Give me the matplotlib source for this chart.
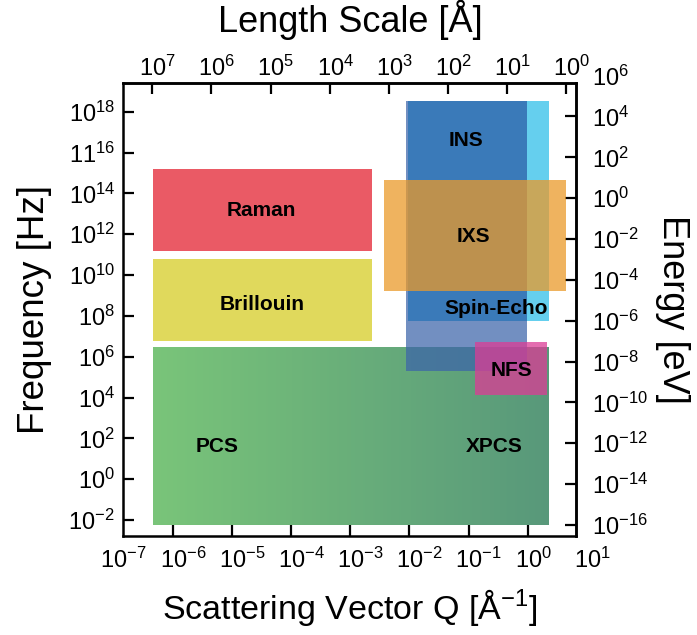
import numpy as np
import matplotlib
matplotlib.use("Agg")
import matplotlib.pyplot as plt
from matplotlib.colors import LinearSegmentedColormap
from matplotlib.ticker import NullLocator
from matplotlib.transforms import ScaledTranslation

plt.rcParams['font.family'] = ['Liberation Sans', 'DejaVu Sans']
plt.rcParams['mathtext.default'] = 'regular'

# --- data ----------------------------------------------------------------
# boxes: Q range [1/A] and frequency range [Hz]
box_names = ['Raman', 'Brillouin', 'NSE', 'Cyan', 'INS', 'IXS', 'NFS']
box_q_lo = [4.6e-7, 4.6e-7, 8.75e-3, 0.97, 9.6e-3, 3.66e-3, 0.127]
box_q_hi = [2.33e-3, 2.33e-3, 0.977, 2.29, 0.977, 4.47, 2.15]
box_f_lo = [1.55e11, 5.9e6, 2.06e5, 5.8e7, 5.8e7, 1.6e9, 1.37e4]
box_f_hi = [1.56e15, 6.1e10, 3.34e18, 3.34e18, 3.34e18, 4.5e14, 5.4e6]
box_colors = ['#EA5A65', '#E0D95C', '#3C64AA', '#65CFEE', '#3A7AB9', '#EA9A2A', '#DC3C96']
box_alpha = [1.0, 1.0, 0.72, 1.0, 1.0, 0.75, 0.75]

# green gradient box (PCS / XPCS)
pcs_q = [4.7e-7, 2.29]
pcs_f = [5.9e-3, 2.88e6]

# labels inside the boxes
lab_text = ['Raman', 'Brillouin', 'INS', 'IXS', 'Spin-Echo', 'NFS', 'PCS', 'XPCS']
lab_q = [3.2e-5, 3.2e-5, 0.09, 0.12, 0.29, 0.53, 5.6e-6, 0.27]
lab_f = [1.5e13, 3.6e8, 4.1e16, 7.8e11, 2.4e8, 2.1e5, 38, 38]

# ticks
q_ticks = [1e-6, 1e-5, 1e-4, 1e-3, 1e-2, 1e-1, 1e0]
q_labels = ['$10^{-6}$', '$10^{-5}$', '$10^{-4}$', '$10^{-3}$', '$10^{-2}$', '$10^{-1}$', '$10^{0}$']
f_ticks = [1e-2, 1e0, 1e2, 1e4, 1e6, 1e8, 1e10, 1e12, 1e14, 1e16, 1e18]
f_labels = ['$10^{-2}$', '$10^{0}$', '$10^{2}$', '$10^{4}$', '$10^{6}$', '$10^{8}$',
            '$10^{10}$', '$10^{12}$', '$10^{14}$', '$11^{16}$', '$10^{18}$']
l_ticks = [1e7, 1e6, 1e5, 1e4, 1e3, 1e2, 1e1, 1e0]
l_labels = ['$10^{7}$', '$10^{6}$', '$10^{5}$', '$10^{4}$', '$10^{3}$', '$10^{2}$', '$10^{1}$', '$10^{0}$']
e_ticks = [1e-16, 1e-14, 1e-12, 1e-10, 1e-8, 1e-6, 1e-4, 1e-2, 1e0, 1e2, 1e4]
e_labels = ['$10^{-16}$', '$10^{-14}$', '$10^{-12}$', '$10^{-10}$', '$10^{-8}$', '$10^{-6}$',
            '$10^{-4}$', '$10^{-2}$', '$10^{0}$', '$10^{2}$', '$10^{4}$']

QL = 4.49          # Q * length as drawn on the top axis
F2E = 10 ** -13.765  # frequency -> energy as drawn on the right axis

fs_tick = 17
pad_b, pad_t, pad_l, pad_r = 8.5, 2, 6, 11

fig = plt.figure(figsize=(6.97, 6.35), dpi=100)
ax = fig.add_axes([0.1769, 0.1559, 0.6502, 0.7129])
ax.set_xscale('log')
ax.set_yscale('log')

# colour ramp for the PCS/XPCS box, even in log Q
green = LinearSegmentedColormap.from_list('g', ['#79C479', '#58987A'])
q_edges = np.logspace(np.log10(pcs_q[0]), np.log10(pcs_q[1]), 201)
ramp = np.linspace(0, 1, 200).reshape(1, -1)
ax.pcolormesh(q_edges, pcs_f, ramp, cmap=green, shading='flat',
              linewidth=0, antialiased=False, zorder=1)

for i in range(len(box_names)):
    ax.bar(box_q_lo[i], box_f_hi[i] - box_f_lo[i], width=box_q_hi[i] - box_q_lo[i],
           bottom=box_f_lo[i], align='edge', color=box_colors[i], alpha=box_alpha[i],
           linewidth=0, zorder=2 + i)

for t, q, f in zip(lab_text, lab_q, lab_f):
    ax.text(q, f, t, ha='center', va='center', fontsize=15, fontweight='bold', zorder=20)

ax.set_xlim(10 ** -6.836, 10 ** 0.824)
ax.set_ylim(10 ** -2.78, 10 ** 19.39)

ax.set_xticks(q_ticks, q_labels)
ax.set_yticks(f_ticks, f_labels)
ax.xaxis.set_minor_locator(NullLocator())
ax.yaxis.set_minor_locator(NullLocator())
ax.tick_params(direction='in', length=8, width=1.6, labelsize=fs_tick)
ax.tick_params(axis='x', pad=pad_b)
ax.tick_params(axis='y', pad=pad_l)
for s in ax.spines.values():
    s.set_linewidth(1.8)

secx = ax.secondary_xaxis('top', functions=(lambda q: QL / q, lambda l: QL / l))
secx.set_xticks(l_ticks, l_labels)
secx.xaxis.set_minor_locator(NullLocator())
secx.tick_params(direction='in', length=8, width=1.6, labelsize=fs_tick, pad=pad_t)
secx.spines['top'].set_linewidth(1.8)

secy = ax.secondary_yaxis('right', functions=(lambda f: f * F2E, lambda e: e / F2E))
secy.set_yticks(e_ticks, e_labels)
secy.yaxis.set_minor_locator(NullLocator())
secy.tick_params(direction='in', length=8, width=1.6, labelsize=fs_tick, pad=pad_r)
secy.spines['right'].set_linewidth(1.8)

# x tick labels: centre the "10" on the tick
half10 = 0.556 * fs_tick / 72.0
shift = ScaledTranslation(-half10, 0, fig.dpi_scale_trans)
for lab in ax.get_xticklabels() + secx.get_xticklabels():
    lab.set_horizontalalignment('left')
    lab.set_transform(lab.get_transform() + shift)

# labels that sit past the ends of the axes
for q, t in [(1e-7, '$10^{-7}$'), (1e1, '$10^{1}$')]:
    ax.annotate(t, xy=(q, 0), xycoords=('data', 'axes fraction'),
                xytext=(-0.556 * fs_tick, -pad_b), textcoords='offset points',
                ha='left', va='top', fontsize=fs_tick, annotation_clip=False)
ax.annotate('$10^{6}$', xy=(1, 1e6 / F2E), xycoords=('axes fraction', 'data'),
            xytext=(pad_r, 0), textcoords='offset points',
            ha='left', va='center_baseline', fontsize=fs_tick, annotation_clip=False)

ax.set_xlabel('Scattering Vector Q [Å$^{-1}$]', fontsize=24.5, labelpad=10)
ax.set_ylabel('Frequency [Hz]', fontsize=26.5, labelpad=12)
secx.set_xlabel('Length Scale [Å]', fontsize=26, labelpad=17)
secy.set_ylabel('Energy [eV]', fontsize=26, rotation=270, va='bottom', labelpad=5)

fig.savefig('out.png', dpi=100)
